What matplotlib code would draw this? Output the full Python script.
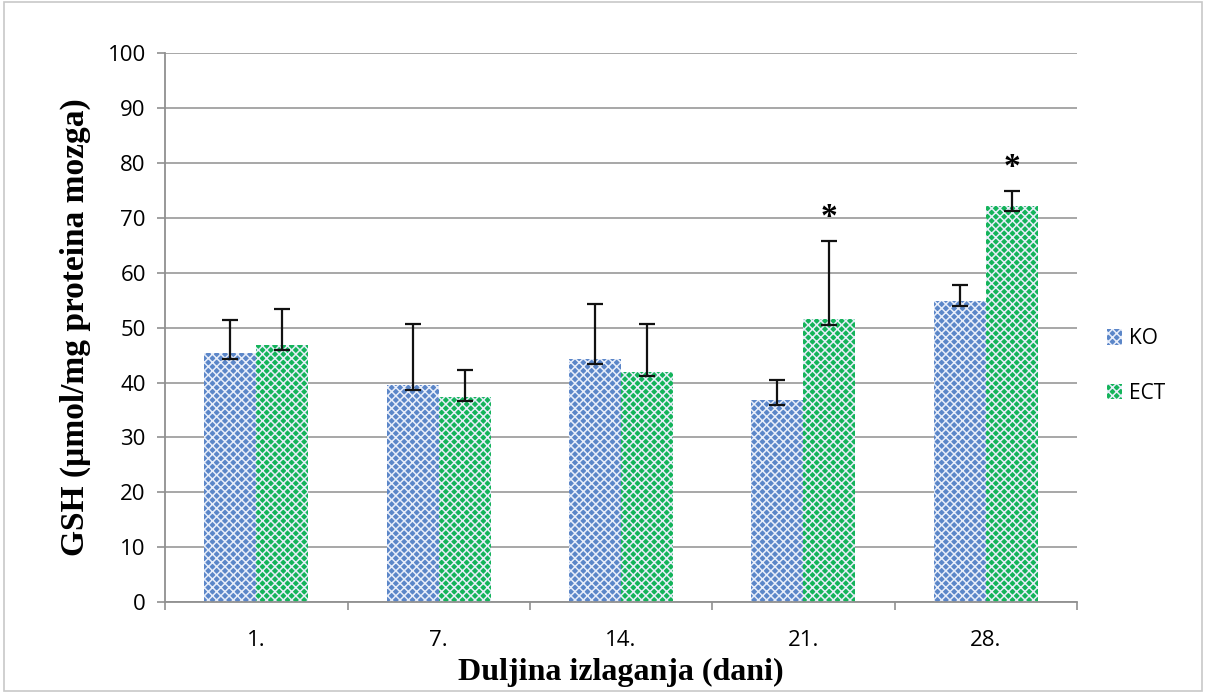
import matplotlib.pyplot as plt
import numpy as np
from matplotlib.patches import Rectangle

# data
days = ['1.', '7.', '14.', '21.', '28.']
ko_mean = [45.4, 39.5, 44.3, 36.8, 54.8]
ko_upper = [51.4, 50.6, 54.3, 40.4, 57.7]
ko_lower = [44.3, 38.6, 43.4, 36.0, 53.9]
ect_mean = [46.8, 37.4, 42.0, 51.5, 72.1]
ect_upper = [53.4, 42.2, 50.6, 65.8, 74.9]
ect_lower = [45.9, 36.7, 41.2, 50.5, 71.2]
stars = [False, False, False, True, True]

ko_color = '#5b86c8'
ect_color = '#14b45a'

plt.rcParams['hatch.linewidth'] = 1.1

fig = plt.figure(figsize=(12.06, 6.93), dpi=100)
ax = fig.add_axes([0.137, 0.131, 0.756, 0.7925])

x = np.arange(len(days))
w = 0.285

def draw_series(xpos, mean, lo, hi, color, label):
    ax.bar(xpos, mean, w, color=color, edgecolor='#e8eefa', linewidth=0,
           hatch='xxxx', label=label, zorder=2)
    err = [np.array(mean) - np.array(lo), np.array(hi) - np.array(mean)]
    ax.errorbar(xpos, mean, yerr=err, fmt='none', ecolor='#111111',
                elinewidth=1.6, capsize=5.5, capthick=1.6, zorder=3)

draw_series(x - w / 2, ko_mean, ko_lower, ko_upper, ko_color, 'KO')
draw_series(x + w / 2, ect_mean, ect_lower, ect_upper, ect_color, 'ECT')

for i, s in enumerate(stars):
    if s:
        ax.text(x[i] + w / 2, ect_upper[i] + 1.5, '*', ha='center', va='bottom',
                fontsize=24, fontweight='bold', family='Liberation Serif')

ax.set_ylim(0, 100)
ax.set_xlim(-0.5, 4.5)
ax.set_yticks(range(0, 101, 10))
ax.yaxis.grid(True, color='#a0a0a0', linewidth=1.3, zorder=0)
ax.set_axisbelow(True)

ax.set_xticks(np.arange(-0.5, 5, 1))
ax.set_xticklabels([])
ax.set_xticks(x, minor=True)
ax.set_xticklabels(days, minor=True)
ax.tick_params(axis='x', which='major', length=6, color='#909090', width=1.2)
ax.tick_params(axis='x', which='minor', length=0, pad=20)
ax.tick_params(axis='y', length=6, color='#909090', width=1.2, pad=8)
for lab in ax.get_xticklabels(minor=True) + ax.get_yticklabels():
    lab.set_fontsize(16)
    lab.set_family('Open Sans')

for sp in ['top', 'right']:
    ax.spines[sp].set_visible(False)
for sp in ['left', 'bottom']:
    ax.spines[sp].set_color('#909090')
    ax.spines[sp].set_linewidth(1.3)

ax.set_ylabel('GSH (µmol/mg proteina mozga)', fontsize=24, fontweight='bold',
              family='Liberation Serif', labelpad=12)
ax.set_xlabel('Duljina izlaganja (dani)', fontsize=23, fontweight='bold',
              family='Liberation Serif', labelpad=5)

leg = ax.legend(loc='center left', bbox_to_anchor=(1.012, 0.43), frameon=False,
                prop={'family': 'Open Sans', 'size': 15}, labelspacing=1.6,
                handlelength=0.75, handleheight=0.75, handletextpad=0.3)

fig.patches.append(Rectangle((0.003, 0.003), 0.994, 0.994, transform=fig.transFigure,
                             fill=False, edgecolor='#c8c8c8', linewidth=1.2))

fig.savefig('out.png', dpi=100)
